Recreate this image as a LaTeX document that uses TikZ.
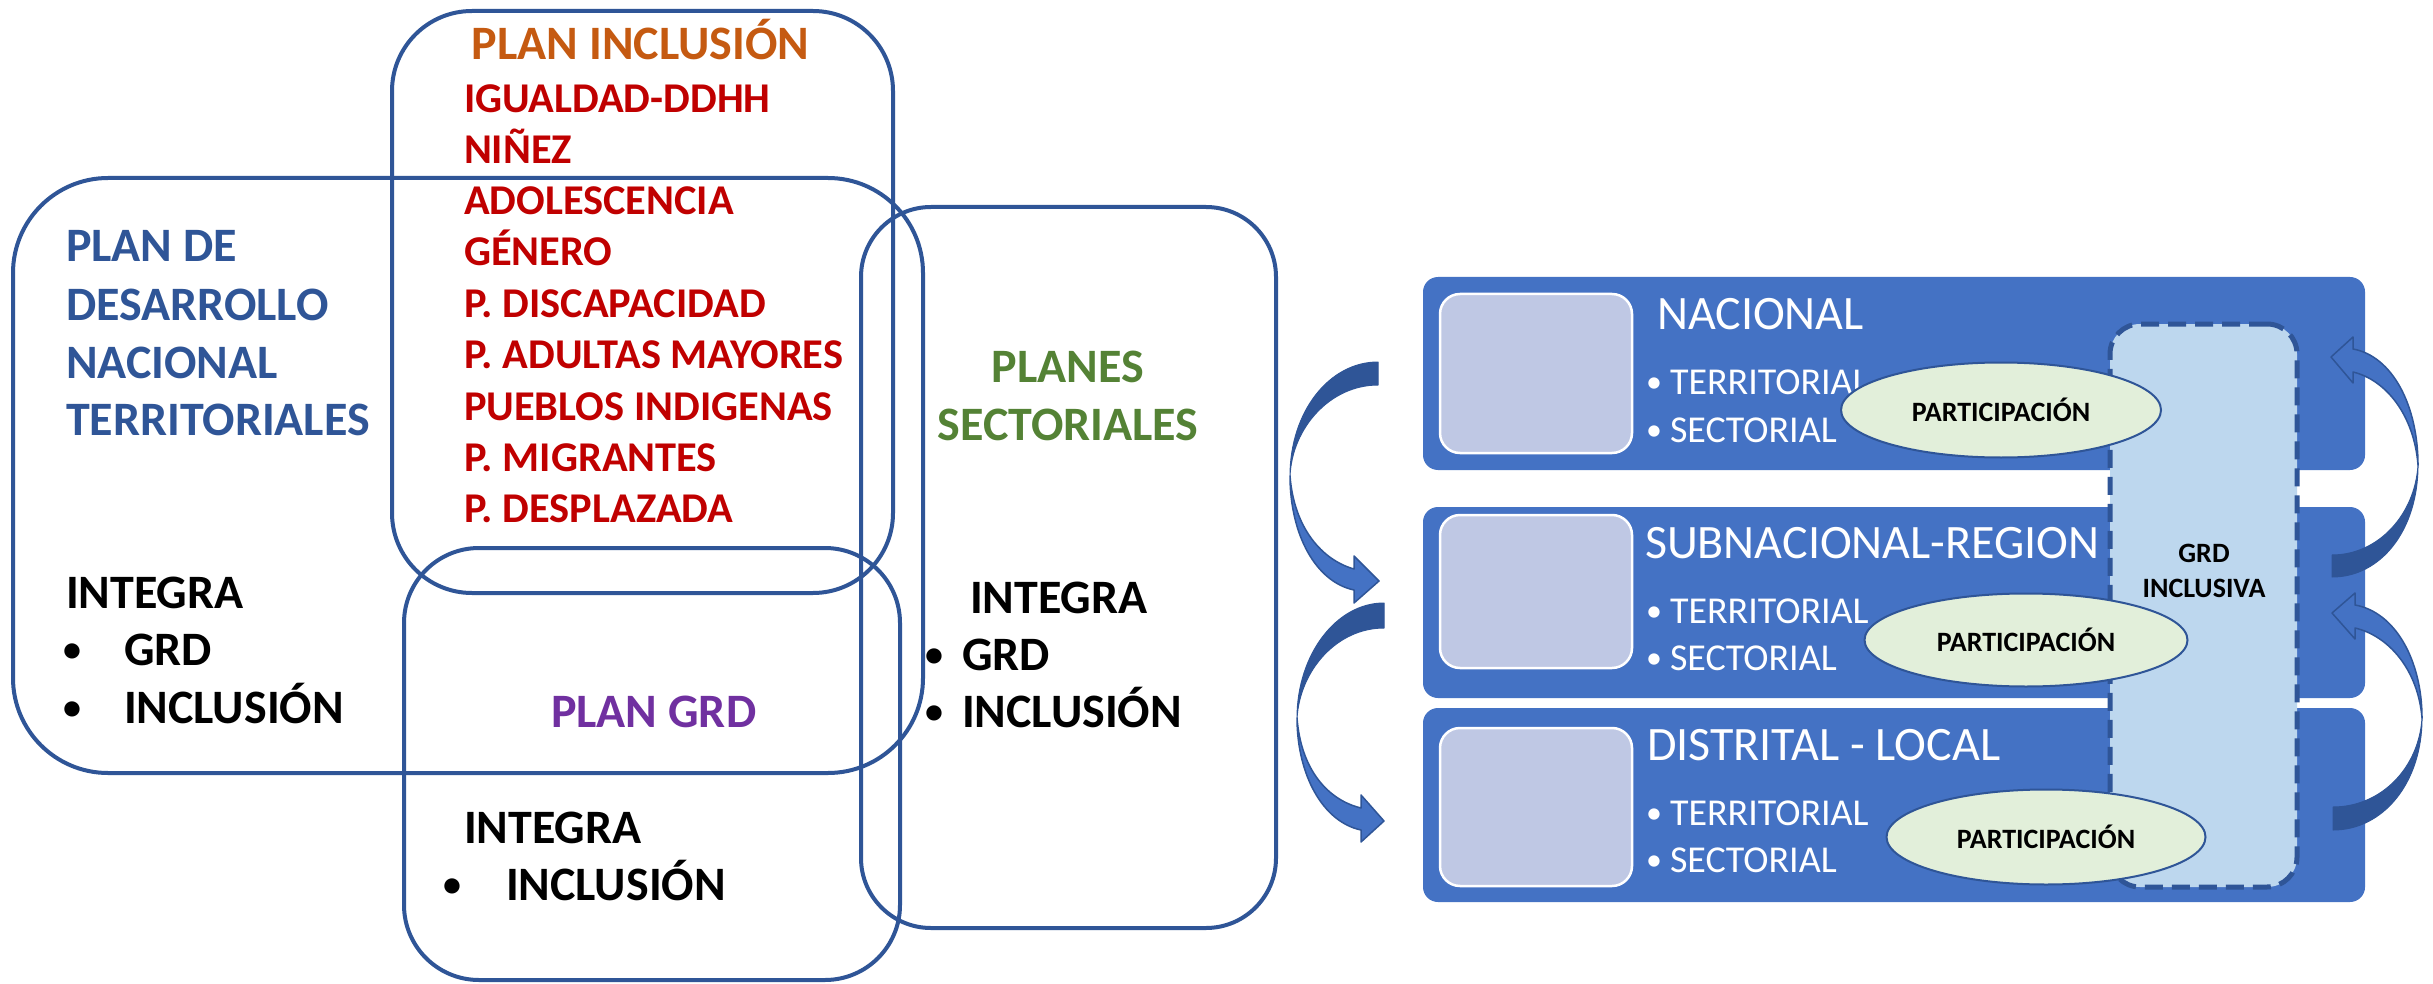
\documentclass[tikz,border=0pt]{standalone}
\usepackage{fontspec}
\setmainfont{Carlito}
\usetikzlibrary{shapes.geometric}
\definecolor{obl}{RGB}{47,85,151}
\definecolor{bbl}{RGB}{68,114,196}
\definecolor{ibl}{RGB}{191,200,228}
\definecolor{dbl}{RGB}{189,215,238}
\definecolor{egr}{RGB}{226,239,218}
\definecolor{orng}{RGB}{197,90,17}
\definecolor{redc}{RGB}{192,0,0}
\definecolor{grnc}{RGB}{84,130,53}
\definecolor{purc}{RGB}{112,48,160}
\newcommand\fbig{\fontsize{48}{57}\selectfont\bfseries}
\newcommand\fred{\fontsize{42.4}{50}\selectfont\bfseries}
\newcommand\flev{\fontsize{48}{57}\selectfont}
\newcommand\fsub{\fontsize{38}{46}\selectfont}
\newcommand\fpart{\fontsize{28}{34}\selectfont\bfseries}
\newcommand\fbulk{\fontsize{36}{40}\selectfont\bfseries}
\newcommand\fbulw{\fontsize{32}{36}\selectfont}
\begin{document}
\begin{tikzpicture}[x=1pt,y=-1pt,
  outl/.style={draw=obl,line width=4pt,rounded corners=#1,inner sep=0pt,fill=none},
  tx/.style={anchor=base west,inner sep=0pt,outer sep=0pt},
  tc/.style={anchor=base,inner sep=0pt,outer sep=0pt},
  bk/.style={anchor=base,inner sep=0pt,outer sep=0pt,font=\fbulk},
  bw/.style={anchor=base,inner sep=0pt,outer sep=0pt,font=\fbulw,text=white},
  lvl/.style={fill=bbl,draw=none,rounded corners=15pt,inner sep=0pt,minimum width=942pt},
  inbox/.style={fill=ibl,draw=white,line width=2.5pt,rounded corners=20pt,inner sep=0pt,minimum width=192pt},
  part/.style={ellipse,fill=egr,draw=obl,line width=2pt,inner sep=0pt,font=\fpart},
  arrdark/.style={fill=obl,draw=obl,line width=1pt,line join=round},
  arrlight/.style={fill=bbl,draw=obl,line width=1.5pt,line join=round}
]
\useasboundingbox (0,0) rectangle (2433,984);
\fill[white] (0,0) rectangle (2433,984);

% ---- left outline boxes
\node[outl=80pt,minimum width=501pt,minimum height=582pt] (incl) at (642.5,302) {};
\node[outl=95pt,minimum width=910pt,minimum height=595pt] (pdn) at (468,475.5) {};
\node[outl=70pt,minimum width=415pt,minimum height=721pt] (sect) at (1068.5,567.5) {};
\node[outl=75pt,minimum width=496pt,minimum height=432pt] (grd) at (652,764) {};

% ---- plan inclusion text
\node[tc,text=orng,font=\fbig] (tinc) at (640.5,60) {PLAN INCLUSIÓN};
\node[tx,text=redc,font=\fred] (r1) at (464,113) {IGUALDAD-DDHH};
\node[tx,text=redc,font=\fred] (r2) at (464,164) {NIÑEZ};
\node[tx,text=redc,font=\fred] (r3) at (464,215) {ADOLESCENCIA};
\node[tx,text=redc,font=\fred] (r4) at (464,266) {GÉNERO};
\node[tx,text=redc,font=\fred] (r5) at (464,317) {P. DISCAPACIDAD};
\node[tx,text=redc,font=\fred] (r6) at (464,368) {P. ADULTAS MAYORES};
\node[tx,text=redc,font=\fred] (r7) at (464,420) {PUEBLOS INDIGENAS};
\node[tx,text=redc,font=\fred] (r8) at (464,471) {P. MIGRANTES};
\node[tx,text=redc,font=\fred] (r9) at (464,522) {P. DESPLAZADA};

% ---- plan desarrollo text
\node[tx,text=obl,font=\fbig] (b1) at (66,262) {PLAN DE};
\node[tx,text=obl,font=\fbig] (b2) at (66,320) {DESARROLLO};
\node[tx,text=obl,font=\fbig] (b3) at (66,378) {NACIONAL};
\node[tx,text=obl,font=\fbig] (b4) at (66,435) {TERRITORIALES};
\node[tx,font=\fbig] (k1) at (66,608) {INTEGRA};
\node[bk] (k2b) at (72,661) {•};
\node[tx,font=\fbig] (k2) at (124,665) {GRD};
\node[bk] (k3b) at (72,719) {•};
\node[tx,font=\fbig] (k3) at (124,723) {INCLUSIÓN};

% ---- plan grd text
\node[tx,text=purc,font=\fbig] (pg) at (551,727) {PLAN GRD};
\node[tx,font=\fbig] (g1) at (464,843) {INTEGRA};
\node[bk] (g2b) at (452,896) {•};
\node[tx,font=\fbig] (g2) at (506,900) {INCLUSIÓN};

% ---- planes sectoriales text
\node[tc,text=grnc,font=\fbig] (s1) at (1068,382) {PLANES};
\node[tc,text=grnc,font=\fbig] (s2) at (1068,440) {SECTORIALES};
\node[tx,font=\fbig] (s3) at (970,613) {INTEGRA};
\node[bk] (s4b) at (934,666) {•};
\node[tx,font=\fbig] (s4) at (962,670) {GRD};
\node[bk] (s5b) at (934,723) {•};
\node[tx,font=\fbig] (s5) at (962,727) {INCLUSIÓN};

% ---- right panel level boxes
\node[lvl,minimum height=193pt] (nac) at (1894,373.5) {};
\node[lvl,minimum height=191pt] (sub) at (1894,602.5) {};
\node[lvl,minimum height=194pt] (dis) at (1894,805) {};
\node[inbox,minimum height=159pt] (nacI) at (1536,373.5) {};
\node[inbox,minimum height=153pt] (subI) at (1536,591.5) {};
\node[inbox,minimum height=158pt] (disI) at (1536,807) {};

\node[tx,text=white,font=\flev] (nT) at (1657,330) {NACIONAL};
\node[bw] (n1b) at (1654,392) {•};
\node[tx,text=white,font=\fsub] (n1) at (1670,394) {TERRITORIAL};
\node[bw] (n2b) at (1654,440) {•};
\node[tx,text=white,font=\fsub] (n2) at (1670,442) {SECTORIAL};

\node[tx,text=white,font=\flev] (sT) at (1645,558) {SUBNACIONAL-REGION};
\node[bw] (u1b) at (1654,621) {•};
\node[tx,text=white,font=\fsub] (u1) at (1670,623) {TERRITORIAL};
\node[bw] (u2b) at (1654,668) {•};
\node[tx,text=white,font=\fsub] (u2) at (1670,670) {SECTORIAL};

\node[tx,text=white,font=\flev] (dT) at (1647,760) {DISTRITAL - LOCAL};
\node[bw] (d1b) at (1654,823) {•};
\node[tx,text=white,font=\fsub] (d1) at (1670,825) {TERRITORIAL};
\node[bw] (d2b) at (1654,870) {•};
\node[tx,text=white,font=\fsub] (d2) at (1670,872) {SECTORIAL};

% ---- dashed GRD inclusiva box
\node[fill=dbl,draw=obl,line width=5pt,dash pattern=on 18pt off 9pt,rounded corners=30pt,
      minimum width=187pt,minimum height=563pt,inner sep=0pt] (gi) at (2203.5,605.5) {};
\node[tc,font=\fpart] (gi1) at (2204,562) {GRD};
\node[tc,font=\fpart] (gi2) at (2204,597) {INCLUSIVA};

% ---- participation ellipses
\node[part,minimum width=320pt,minimum height=95pt] (p1) at (2001,410) {PARTICIPACIÓN};
\node[part,minimum width=323pt,minimum height=93pt] (p2) at (2026,640) {PARTICIPACIÓN};
\node[part,minimum width=319pt,minimum height=95pt] (p3) at (2046,837) {PARTICIPACIÓN};

% ---- left curved arrows
\path[arrdark] (1378,362) .. controls (1329,362) and (1290,412) .. (1290,476)
   .. controls (1292,428) and (1330,385) .. (1378,385) -- cycle;
\path[arrlight] (1290,476) .. controls (1290,535) and (1316,582) .. (1354,590)
   -- (1354,603) -- (1379,581) -- (1354,556) -- (1354,569)
   .. controls (1322,560) and (1294,528) .. (1290,476) -- cycle;

\path[arrdark] (1384,603) .. controls (1336,603) and (1297,655) .. (1297,718)
   .. controls (1300,670) and (1337,628) .. (1384,628) -- cycle;
\path[arrlight] (1297,718) .. controls (1297,775) and (1323,822) .. (1361,830)
   -- (1361,842) -- (1384,821) -- (1361,795) -- (1361,808)
   .. controls (1328,800) and (1301,770) .. (1297,718) -- cycle;

% ---- right curved arrows
\path[arrdark] (2332,577) .. controls (2381,577) and (2418,530) .. (2418,465)
   .. controls (2415,515) and (2378,555) .. (2332,555) -- cycle;
\path[arrlight] (2418,465) .. controls (2418,405) and (2392,356) .. (2353,349)
   -- (2353,337) -- (2331,357) -- (2353,383) -- (2353,372)
   .. controls (2386,380) and (2414,415) .. (2418,465) -- cycle;

\path[arrdark] (2333,830) .. controls (2383,830) and (2422,783) .. (2422,718)
   .. controls (2419,768) and (2381,807) .. (2333,807) -- cycle;
\path[arrlight] (2422,718) .. controls (2422,660) and (2395,612) .. (2355,605)
   -- (2355,593) -- (2332,613) -- (2355,639) -- (2355,628)
   .. controls (2389,636) and (2418,670) .. (2422,718) -- cycle;
\end{tikzpicture}
\end{document}
